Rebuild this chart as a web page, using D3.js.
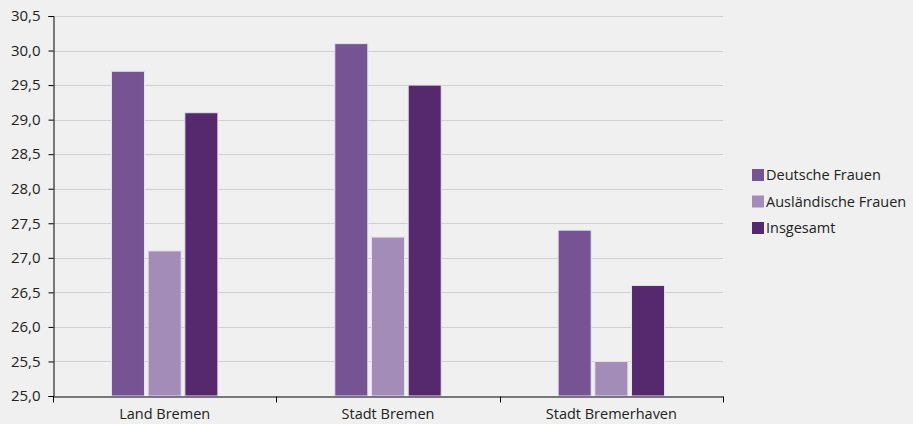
<!DOCTYPE html>
<html><head><meta charset="utf-8">
<script src="https://cdn.jsdelivr.net/npm/d3@7"></script>
<style>
body{margin:0;background:#eff0ef;}
svg{display:block;font-family:"Open Sans",sans-serif;}
</style></head><body>
<svg id="c" width="913" height="424"></svg>
<script>
const categories = ["Land Bremen", "Stadt Bremen", "Stadt Bremerhaven"];
const seriesNames = ["Deutsche Frauen", "Ausländische Frauen", "Insgesamt"];
const deutsche = [29.7, 30.1, 27.4];
const auslaendische = [27.1, 27.3, 25.5];
const insgesamt = [29.1, 29.5, 26.6];
const yTicks = [25.0, 25.5, 26.0, 26.5, 27.0, 27.5, 28.0, 28.5, 29.0, 29.5, 30.0, 30.5];
const colors = ["#765393", "#a48cb9", "#56296f"];
const seriesValues = [deutsche, auslaendische, insgesamt];

const svg = d3.select("#c");
const m = {l:53, r:190, t:16, b:28};
const W = 913, H = 424;
const x0 = d3.scaleBand().domain(categories).range([m.l, W - m.r]).padding(0);
const y = d3.scaleLinear().domain([25, 30.5]).range([H - m.b, m.t]);
const groupW = x0.bandwidth() * 0.4765;
const x1 = d3.scaleBand().domain(seriesNames).range([0, groupW]).paddingInner(0.1).paddingOuter(0);

svg.append("rect").attr("width", W).attr("height", H).attr("fill", "#eff0ef");

// grid
svg.append("g").selectAll("line").data(yTicks.slice(1)).join("line")
  .attr("x1", m.l).attr("x2", W - m.r)
  .attr("y1", d => Math.round(y(d)) + 0.5).attr("y2", d => Math.round(y(d)) + 0.5)
  .attr("stroke", "#cfd0cf").attr("stroke-width", 1);

// bars
const data = [];
categories.forEach((c, i) => seriesNames.forEach((s, j) => data.push({c, s, j, v: seriesValues[j][i]})));
svg.append("g").selectAll("rect").data(data).join("rect")
  .attr("x", d => x0(d.c) + (x0.bandwidth() - groupW) / 2 + x1(d.s))
  .attr("width", x1.bandwidth())
  .attr("y", d => y(d.v))
  .attr("height", d => y(25) - y(d.v))
  .attr("fill", d => colors[d.j])
  .attr("stroke", "#e6e2ec").attr("stroke-width", 1);

// y axis
const yAxis = d3.axisLeft(y).tickValues(yTicks).tickSize(5).tickPadding(8)
  .tickFormat(d => d3.format(".1f")(d).replace(".", ","));
const gy = svg.append("g").attr("transform", `translate(${m.l + 0.5},0)`).call(yAxis);
gy.select(".domain").attr("stroke", "#000");
gy.selectAll(".tick line").attr("stroke", "#000");
gy.selectAll("text").attr("font-size", 15).attr("fill", "#222").attr("font-family", "Open Sans, sans-serif");

// x axis
const xAxis = d3.axisBottom(x0).tickSize(0).tickPadding(12);
const gx = svg.append("g").attr("transform", `translate(0,${H - m.b + 0.5})`).call(xAxis);
gx.select(".domain").attr("stroke", "#000");
gx.selectAll("text").attr("font-size", 14.5).attr("fill", "#222").attr("font-family", "Open Sans, sans-serif");
const bounds = [0, 1, 2, 3].map(i => m.l + i * x0.step());
gx.selectAll(".bnd").data(bounds).join("line").attr("class", "bnd")
  .attr("x1", d => Math.round(d) + 0.5).attr("x2", d => Math.round(d) + 0.5)
  .attr("y1", 0).attr("y2", 6).attr("stroke", "#000");

// legend
const lg = svg.append("g").attr("transform", "translate(752,169)");
seriesNames.forEach((s, j) => {
  const g = lg.append("g").attr("transform", `translate(0,${j * 26.5})`);
  g.append("rect").attr("width", 12).attr("height", 12).attr("fill", colors[j]);
  g.append("text").attr("x", 14).attr("y", 11).attr("font-size", 14.5).attr("fill", "#222").text(s);
});
</script>
</body></html>
